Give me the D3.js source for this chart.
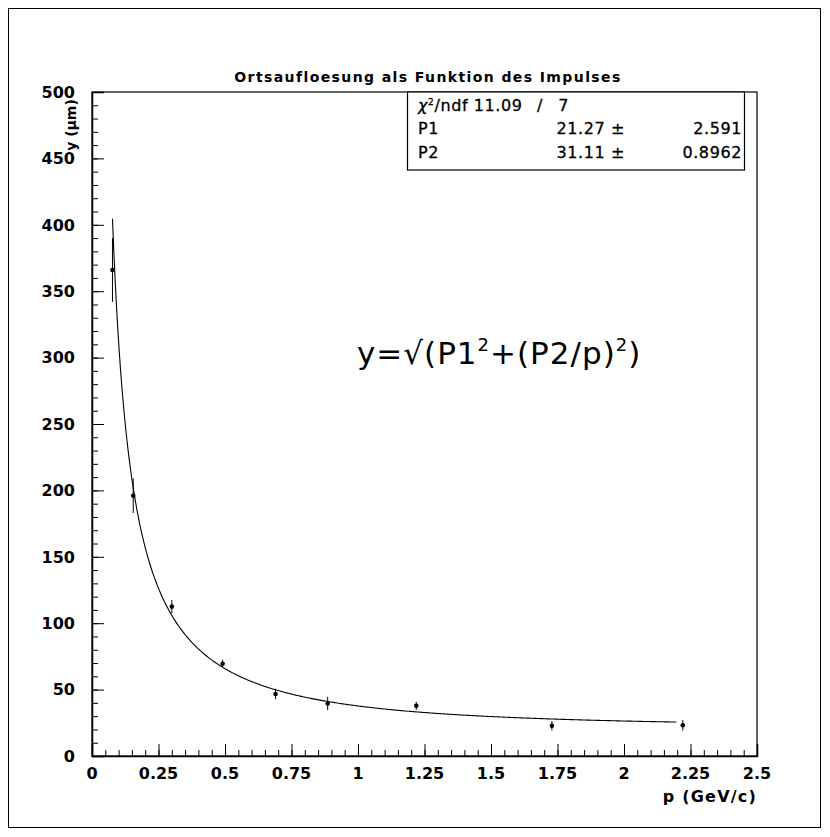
<!DOCTYPE html>
<html>
<head>
<meta charset="utf-8">
<script src="https://cdnjs.cloudflare.com/ajax/libs/d3/7.8.5/d3.min.js"></script>
<style>
  body { margin: 0; background: #fff; }
  text { font-family: "DejaVu Sans", sans-serif; fill: #000; }
  .tick-label { font-size: 16px; font-weight: bold; }
  .stat { font-size: 16px; letter-spacing: 0.6px; stroke: #000; stroke-width: 0.3px; }
</style>
</head>
<body>
<div class="chart"></div>
<script>
// measured points: momentum p (GeV/c), resolution y (um), error
var pValues = [0.077, 0.155, 0.30, 0.491, 0.69, 0.886, 1.219, 1.729, 2.221];
var yValues = [366, 196, 112.5, 69.5, 46.7, 39.5, 37.8, 22.8, 23.1];
var yErrors = [24, 13, 5, 3, 4, 5, 3, 3.5, 4];

// fit parameters from the stats box
var P1 = 21.27, P1err = 2.591;
var P2 = 31.11, P2err = 0.8962;
var chi2 = "11.09", ndf = "7";
var fitRange = [0.077, 2.2];

var xTicks = [0, 0.25, 0.5, 0.75, 1, 1.25, 1.5, 1.75, 2, 2.25, 2.5];
var yTicks = [0, 50, 100, 150, 200, 250, 300, 350, 400, 450, 500];

var svgWidth = 830;
var svgHeight = 837;

var margin = { top: 92, right: 73, bottom: 81, left: 92 };
var width = 757 - margin.left;
var height = 756 - margin.top;

var svg = d3.select(".chart")
  .append("svg")
  .attr("width", svgWidth)
  .attr("height", svgHeight);

// outer canvas frame
svg.append("rect")
  .attr("x", 8.5).attr("y", 8.5)
  .attr("width", 812).attr("height", 819)
  .attr("fill", "none").attr("stroke", "#000").attr("stroke-width", 1);

var chartGroup = svg.append("g")
  .attr("transform", `translate(${margin.left}, ${margin.top})`);

var xScale = d3.scaleLinear().domain([0, 2.5]).range([0, width]);
var yScale = d3.scaleLinear().domain([0, 500]).range([height, 0]);

// frame
chartGroup.append("rect")
  .attr("x", 0).attr("y", 0)
  .attr("width", width).attr("height", height)
  .attr("fill", "none").attr("stroke", "#000").attr("stroke-width", 1.2);

// x axis: major ticks with labels, minor ticks every 0.05
var xMinor = d3.range(0, 2.5001, 0.05);
chartGroup.append("g")
  .attr("transform", `translate(0, ${height})`)
  .call(d3.axisTop(xScale).tickValues(xMinor).tickSize(6).tickFormat(""))
  .call(g => g.select(".domain").remove());
var xAxis = chartGroup.append("g")
  .attr("transform", `translate(0, ${height})`)
  .call(d3.axisTop(xScale).tickValues(xTicks).tickSize(12).tickFormat(""));
xAxis.select(".domain").attr("stroke-width", 1.5);
chartGroup.append("g").selectAll("text")
  .data(xTicks)
  .enter()
  .append("text")
  .attr("class", "tick-label")
  .attr("x", d => xScale(d))
  .attr("y", height + 23)
  .attr("text-anchor", "middle")
  .text(d => d);

// y axis: major every 50, minor every 10
var yMinor = d3.range(0, 501, 10);
chartGroup.append("g")
  .call(d3.axisRight(yScale).tickValues(yMinor).tickSize(6).tickFormat(""))
  .call(g => g.select(".domain").remove());
var yAxis = chartGroup.append("g")
  .call(d3.axisRight(yScale).tickValues(yTicks).tickSize(12).tickFormat(""));
yAxis.select(".domain").attr("stroke-width", 1.5);
chartGroup.append("g").selectAll("text")
  .data(yTicks)
  .enter()
  .append("text")
  .attr("class", "tick-label")
  .attr("x", -17)
  .attr("y", d => yScale(d))
  .attr("dy", "0.36em")
  .attr("text-anchor", "end")
  .text(d => d);

chartGroup.selectAll(".tick line").attr("stroke-width", 1);

// fit curve y = sqrt(P1^2 + (P2/p)^2)
var fitP = d3.range(fitRange[0], fitRange[1] + 1e-9, 0.005);
var line = d3.line()
  .x(p => xScale(p))
  .y(p => yScale(Math.sqrt(P1 * P1 + (P2 / p) * (P2 / p))));
chartGroup.append("path")
  .datum(fitP)
  .attr("d", line)
  .attr("fill", "none")
  .attr("stroke", "#000")
  .attr("stroke-width", 1.1);

// error bars and markers
var points = pValues.map((p, i) => ({ p: p, y: yValues[i], e: yErrors[i] }));
chartGroup.selectAll(".err")
  .data(points)
  .enter()
  .append("line")
  .attr("class", "err")
  .attr("x1", d => xScale(d.p)).attr("x2", d => xScale(d.p))
  .attr("y1", d => yScale(d.y - d.e)).attr("y2", d => yScale(d.y + d.e))
  .attr("stroke", "#000").attr("stroke-width", 1);
chartGroup.selectAll("circle")
  .data(points)
  .enter()
  .append("circle")
  .attr("cx", d => xScale(d.p))
  .attr("cy", d => yScale(d.y))
  .attr("r", 2.3)
  .attr("fill", "#000");

// title
svg.append("text")
  .attr("x", 428).attr("y", 82)
  .attr("text-anchor", "middle")
  .style("font-size", "14px")
  .style("font-weight", "bold")
  .style("letter-spacing", "1.4px")
  .text("Ortsaufloesung als Funktion des Impulses");

// axis titles
svg.append("text")
  .attr("transform", "translate(76, 125) rotate(-90)")
  .attr("text-anchor", "middle")
  .style("font-size", "14px")
  .style("font-weight", "bold")
  .text("y (µm)");
svg.append("text")
  .attr("x", 757).attr("y", 802)
  .attr("text-anchor", "end")
  .style("font-size", "16px")
  .style("font-weight", "bold")
  .style("letter-spacing", "1.2px")
  .text("p (GeV/c)");

// stats box
var stats = svg.append("g");
stats.append("rect")
  .attr("x", 407.5).attr("y", 92)
  .attr("width", 337).attr("height", 78)
  .attr("fill", "#fff").attr("stroke", "#000").attr("stroke-width", 1.2);
var rowY = [111, 134, 158];
var chiRow = stats.append("text").attr("class", "stat").attr("x", 418).attr("y", rowY[0]);
chiRow.append("tspan").style("font-style", "italic").text("χ");
chiRow.append("tspan").attr("dy", -6).style("font-size", "9px").text("2");
chiRow.append("tspan").attr("dy", 6).text("/ndf " + chi2);
stats.append("text").attr("class", "stat").attr("x", 537).attr("y", rowY[0]).text("/");
stats.append("text").attr("class", "stat").attr("x", 569).attr("y", rowY[0]).attr("text-anchor", "end").text(ndf);
var rows = [["P1", P1, P1err], ["P2", P2, P2err]];
rows.forEach(function (r, i) {
  stats.append("text").attr("class", "stat").attr("x", 418).attr("y", rowY[i + 1]).text(r[0]);
  stats.append("text").attr("class", "stat").attr("x", 625).attr("y", rowY[i + 1]).attr("text-anchor", "end")
    .text(r[1] + " ±");
  stats.append("text").attr("class", "stat").attr("x", 742).attr("y", rowY[i + 1]).attr("text-anchor", "end")
    .text(r[2]);
});

// formula
var f = svg.append("text")
  .attr("x", 357).attr("y", 364)
  .style("font-size", "31px")
  .style("letter-spacing", "1px");
f.append("tspan").text("y=√(P1");
f.append("tspan").attr("dy", -13).style("font-size", "18px").text("2");
f.append("tspan").attr("dy", 13).text("+(P2/p)");
f.append("tspan").attr("dy", -13).style("font-size", "18px").text("2");
f.append("tspan").attr("dy", 13).text(")");
</script>
</body>
</html>
